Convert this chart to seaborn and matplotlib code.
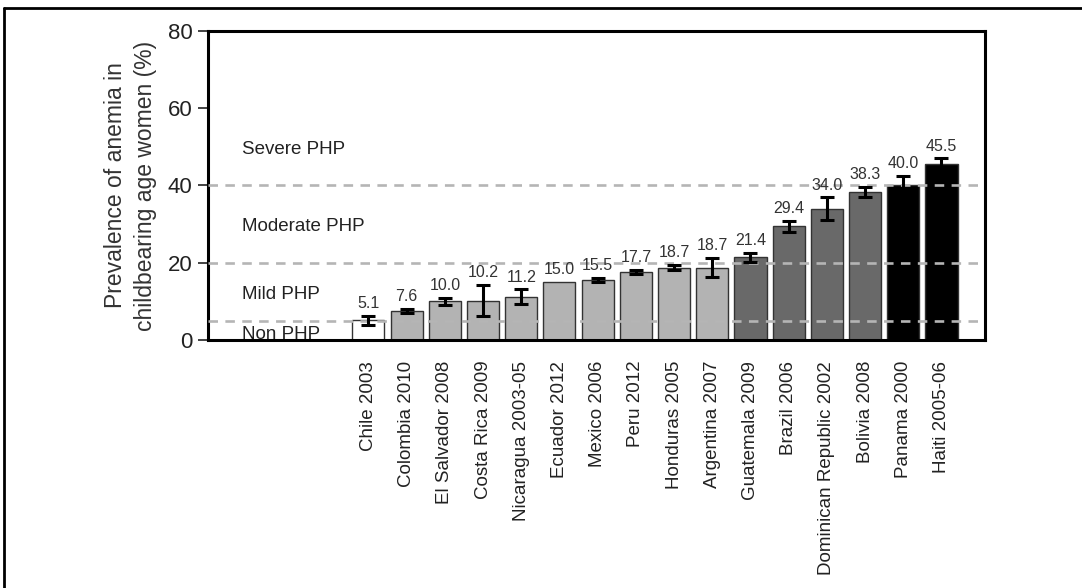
import numpy as np
import pandas as pd
import seaborn as sns
import matplotlib.pyplot as plt
from matplotlib.lines import Line2D

# ---------------------------------------------------------
# Data
# ---------------------------------------------------------
countries = ["Chile 2003", "Colombia 2010", "El Salvador 2008", "Costa Rica 2009",
             "Nicaragua 2003-05", "Ecuador 2012", "Mexico 2006", "Peru 2012",
             "Honduras 2005", "Argentina 2007", "Guatemala 2009", "Brazil 2006",
             "Dominican Republic 2002", "Bolivia 2008", "Panama 2000", "Haiti 2005-06"]
prevalence = [5.1, 7.6, 10.0, 10.2, 11.2, 15.0, 15.5, 17.7,
              18.7, 18.7, 21.4, 29.4, 34.0, 38.3, 40.0, 45.5]
error = [1.1, 0.5, 0.9, 4.0, 1.9, 0.0, 0.5, 0.5,
         0.7, 2.5, 1.2, 1.5, 2.9, 1.4, 2.5, 1.5]
severity = ["Non", "Mild", "Mild", "Mild", "Mild", "Mild", "Mild", "Mild",
            "Mild", "Mild", "Moderate", "Moderate", "Moderate", "Moderate",
            "Severe", "Severe"]

thresholds = [5, 20, 40]
zone_labels = ["Severe PHP", "Moderate PHP", "Mild PHP", "Non PHP"]
zone_y = [49.2, 29.3, 11.9, 0.3]

severity_colors = {"Non": "#ffffff", "Mild": "#b3b3b3",
                   "Moderate": "#696969", "Severe": "#000000"}

df = pd.DataFrame({"country": countries, "prevalence": prevalence,
                   "err": error, "severity": severity})

# ---------------------------------------------------------
# Plot
# ---------------------------------------------------------
sns.set_style("white")
plt.rcParams["font.family"] = ["Liberation Sans", "DejaVu Sans"]

fig = plt.figure(figsize=(10.82, 5.88), dpi=100)
ax = fig.add_axes([0.1922, 0.4218, 0.7182, 0.5255])

sns.barplot(data=df, x="country", y="prevalence", hue="country",
            palette=[severity_colors[s] for s in severity], legend=False,
            width=0.84, edgecolor="#333333", linewidth=1.0, ax=ax, zorder=2)

xpos = np.arange(len(countries))
has_err = df["err"] > 0
ax.errorbar(xpos[has_err], df["prevalence"][has_err], yerr=df["err"][has_err],
            fmt="none", ecolor="black", elinewidth=2.2, capsize=5, capthick=2.2,
            zorder=4)

# threshold lines on top of the bars
for t in thresholds:
    ax.axhline(t, color="#b5b5b5", lw=1.9, ls=(0, (3.6, 2.8)), zorder=3)

# value labels
for x, v, e in zip(xpos, prevalence, error):
    ax.annotate(f"{v:.1f}", (x, v + e), xytext=(0, 3.5), textcoords="offset points",
                ha="center", va="bottom", fontsize=11.5, color="#333333", zorder=5)

# zone labels
for lab, y in zip(zone_labels, zone_y):
    va = "baseline" if lab == "Non PHP" else "center"
    ax.text(-3.3, y, lab, ha="left", va=va, fontsize=13.5, color="#222222", zorder=1)

ax.set_xlim(-4.2, 16.14)
ax.set_ylim(0, 80)
ax.set_yticks([0, 20, 40, 60, 80])
ax.tick_params(axis="y", which="major", direction="out", length=7, width=1.2,
               labelsize=16, colors="#222222", left=True, pad=4)
ax.tick_params(axis="x", length=0, labelsize=13.5, labelcolor="#222222", pad=15)
plt.setp(ax.get_xticklabels(), rotation=90)

ax.set_xlabel("")
ax.set_ylabel("Prevalence of anemia in\nchildbearing age women (%)",
              fontsize=16.5, color="#333333", labelpad=8, linespacing=1.4)

for side in ["left", "bottom", "top", "right"]:
    ax.spines[side].set_visible(True)
    ax.spines[side].set_color("black")
    ax.spines[side].set_linewidth(2.2)

# frame lines of the figure (top and left only)
W, H = 1082, 588
fig.add_artist(Line2D([4 / W, 1.0], [1 - 8 / H, 1 - 8 / H], transform=fig.transFigure,
                      color="black", lw=2))
fig.add_artist(Line2D([4 / W, 4 / W], [0.0, 1 - 8 / H], transform=fig.transFigure,
                      color="black", lw=2))

plt.savefig("out.png", dpi=100)
